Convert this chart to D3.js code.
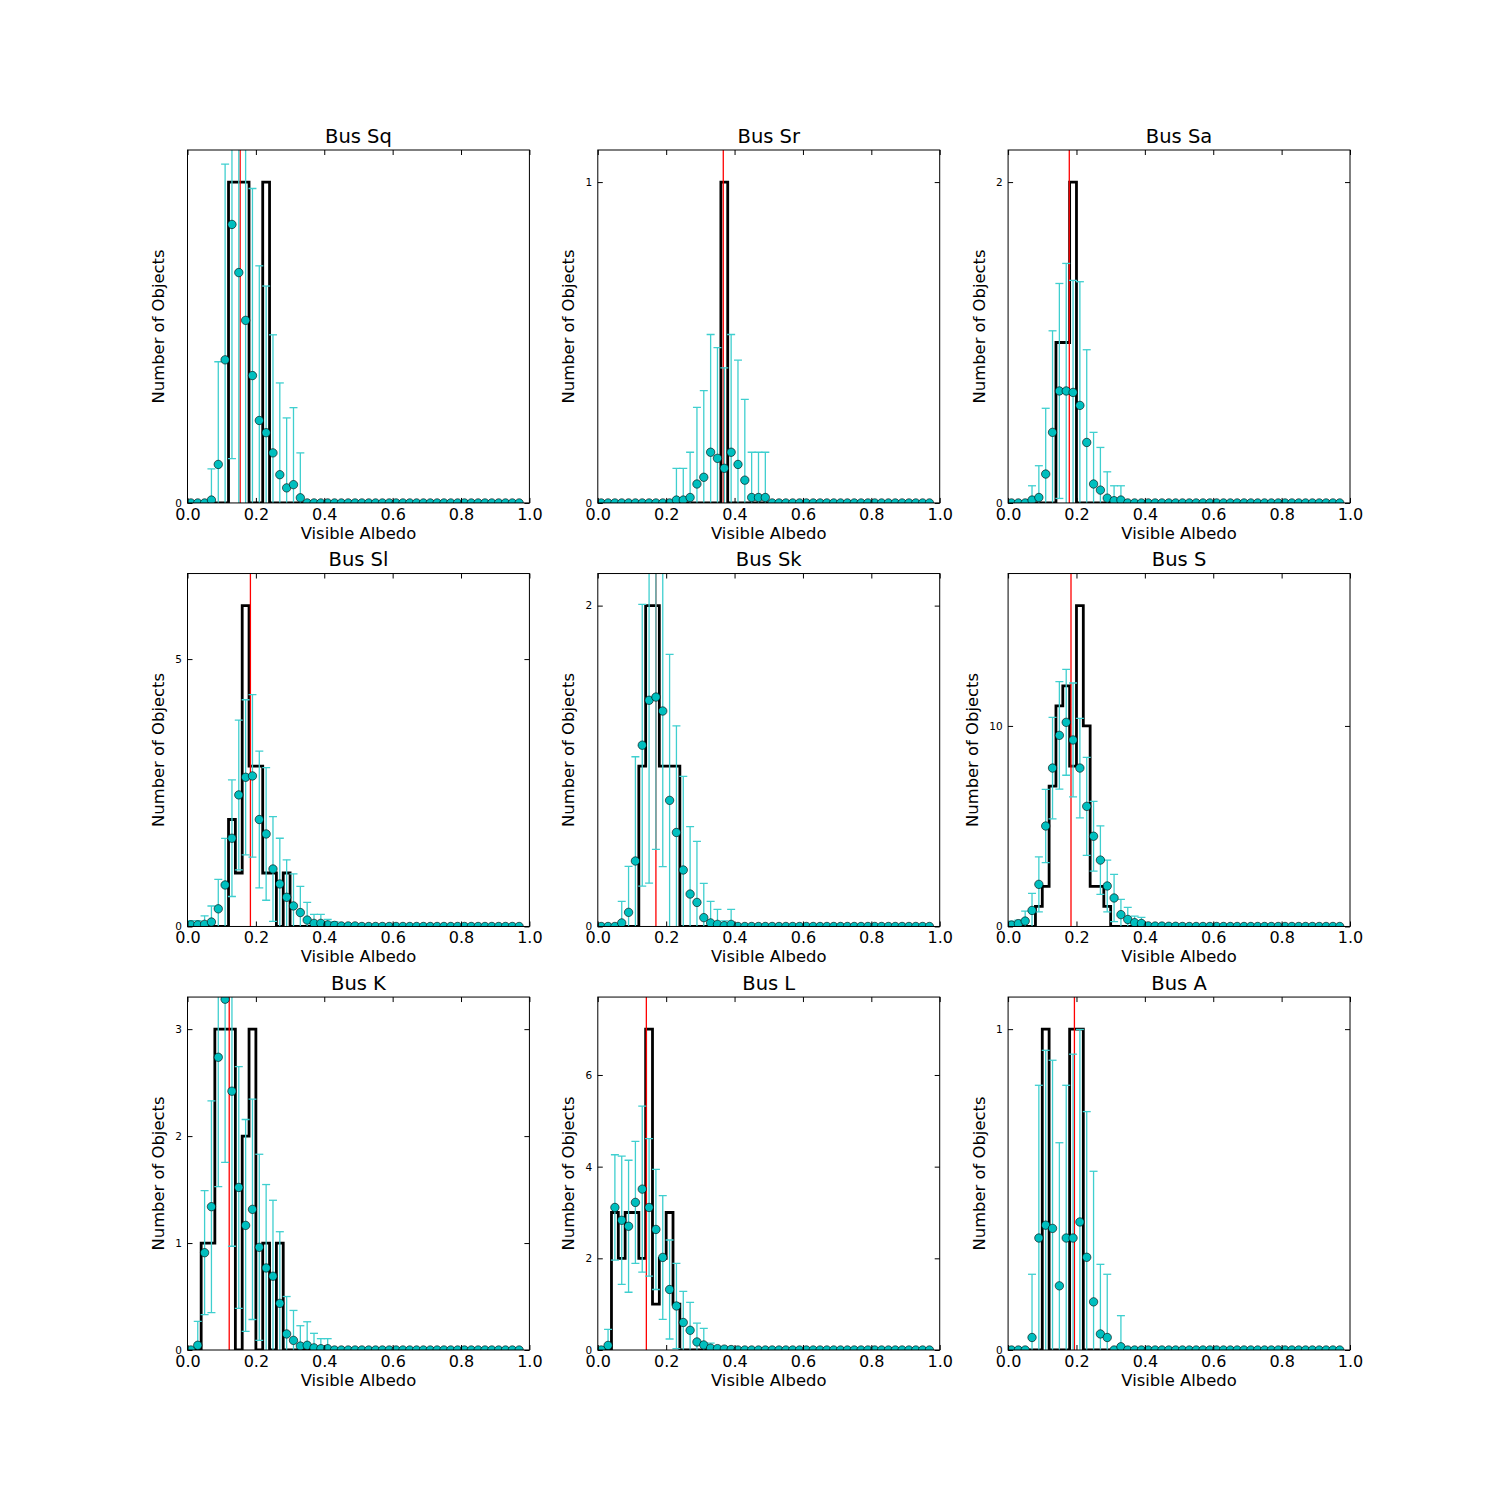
<!DOCTYPE html>
<html><head><meta charset="utf-8">
<script src="https://cdn.jsdelivr.net/npm/d3@7"></script>
<style>body{margin:0;background:#fff} text{font-family:"DejaVu Sans",sans-serif;fill:#000}</style>
</head><body><svg id="c" width="1500" height="1500" xmlns="http://www.w3.org/2000/svg"></svg>
<script>
// ---------------- data ----------------
const titles = ["Bus Sq","Bus Sr","Bus Sa","Bus Sl","Bus Sk","Bus S","Bus K","Bus L","Bus A"];
const histMax = [1,1,2,6,2,16,3,7,1];
const yTicks = [[0],[0,1],[0,2],[0,5],[0,2],[0,10],[0,1,2,3],[0,2,4,6],[0,1]];
const xTicks = [0,0.2,0.4,0.6,0.8,1.0];
const meanAlbedo = [0.154,0.367,0.179,0.184,0.17,0.184,0.122,0.142,0.194];

// histogram counts, bins of width 0.02 starting at 0.00 (remaining bins are empty)
const histSq = [0,0,0,0,0,0,1,1,1,0,0,1,0,0,0,0,0,0,0,0];
const histSr = [0,0,0,0,0,0,0,0,0,0,0,0,0,0,0,0,0,0,1,0];
const histSa = [0,0,0,0,0,0,0,1,1,2,0,0,0,0,0,0,0,0,0,0];
const histSl = [0,0,0,0,0,0,2,1,6,3,3,1,1,0,1,0,0,0,0,0];
const histSk = [0,0,0,0,0,0,1,2,2,1,1,1,0,0,0,0,0,0,0,0];
const histS  = [0,0,0,0,1,2,7,11,12,8,16,10,2,2,1,0,0,0,0,0];
const histK  = [0,0,1,1,3,3,3,0,2,3,0,1,0,1,0,0,0,0,0,0];
const histL  = [0,0,3,2,3,3,2,7,1,2,3,1,0,0,0,0,0,0,0,0];
const histA  = [0,0,0,0,0,1,0,0,0,1,1,0,0,0,0,0,0,0,0,0];

// smoothed points at bin centres 0.01, 0.03, ... (remaining points are zero)
const dotSq = [0,0,0,0.009,0.12,0.446,0.868,0.718,0.569,0.397,0.257,0.219,0.156,0.088,0.047,0.057,0.016];
const errSq = [0,0,0,0.097,0.32,0.61,0.73,0.75,0.72,0.583,0.482,0.457,0.368,0.286,0.218,0.24,0.14];
const dotSr = [0,0,0,0,0,0,0,0,0,0,0,0.009,0.009,0.017,0.059,0.08,0.158,0.139,0.108,0.158,0.12,0.071,0.017,0.017,0.017];
const errSr = [0,0,0,0,0,0,0,0,0,0,0,0.099,0.099,0.141,0.239,0.27,0.367,0.345,0.313,0.367,0.325,0.252,0.141,0.141,0.141];
const dotSa = [0,0,0,0.018,0.034,0.18,0.44,0.698,0.698,0.689,0.608,0.377,0.118,0.08,0.03,0.014,0.018];
const errSa = [0,0,0,0.089,0.198,0.41,0.633,0.67,0.795,0.698,0.771,0.578,0.322,0.266,0.164,0.093,0.089];
const dotSl = [0.03,0.03,0.04,0.083,0.33,0.776,1.65,2.46,2.79,2.815,2.0,1.73,1.075,0.795,0.546,0.384,0.26,0.12,0.058,0.058,0.03,0.02,0.01,0.01,0.01];
const errSl = [0.08,0.08,0.16,0.3,0.55,0.87,1.09,1.4,1.45,1.52,1.28,1.24,0.98,0.855,0.7,0.6,0.49,0.33,0.17,0.17,0.1,0.07,0.04,0.04,0.04];
const dotSk = [0,0,0,0.022,0.088,0.408,1.13,1.41,1.43,1.343,0.786,0.586,0.352,0.202,0.15,0.055,0.022,0.013,0.005,0.013];
const errSk = [0,0,0,0.135,0.287,0.65,0.878,1.14,0.95,0.97,0.91,0.665,0.583,0.42,0.38,0.214,0.135,0.094,0.03,0.094];
const dotS  = [0.07,0.14,0.27,0.8,2.1,5.01,7.9,9.53,10.18,9.3,7.9,5.99,4.5,3.31,2.02,1.42,0.59,0.35,0.19,0.15,0.03,0.02,0.02,0.01,0.01];
const errS  = [0.2,0.18,0.5,0.85,1.37,1.83,2.53,2.68,2.64,2.84,2.48,2.44,1.74,1.71,1.29,1.18,0.76,0.6,0.33,0.3,0.1,0.05,0.05,0.03,0.03];
const dotK  = [0,0.044,0.91,1.34,2.737,3.28,2.42,1.52,1.165,1.315,0.96,0.767,0.69,0.436,0.15,0.09,0.037,0.044,0.02,0.012,0.012];
const errK  = [0,0.224,0.58,0.99,1.21,1.525,1.45,1.13,0.99,1.03,0.87,0.78,0.71,0.67,0.35,0.28,0.19,0.22,0.136,0.094,0.094];
const dotL  = [0,0.1,3.11,2.83,2.7,3.22,3.51,3.11,2.63,2.02,1.32,0.96,0.6,0.43,0.175,0.11,0.04,0.03,0.02,0.01];
const errL  = [0,0.35,1.15,1.4,1.44,1.33,1.81,1.5,1.31,1.35,1.08,0.93,0.68,0.61,0.41,0.36,0.11,0.05,0.03,0.02];
const dotA  = [0,0,0,0.039,0.349,0.389,0.379,0.2,0.349,0.349,0.399,0.289,0.15,0.05,0.039,0,0.01];
const errA  = [0,0,0,0.197,0.476,0.545,0.524,0.446,0.476,0.573,0.6,0.454,0.407,0.217,0.197,0,0.097];

const hists = [histSq,histSr,histSa,histSl,histSk,histS,histK,histL,histA];
const dots  = [dotSq,dotSr,dotSa,dotSl,dotSk,dotS,dotK,dotL,dotA];
const errs  = [errSq,errSr,errSa,errSl,errSk,errS,errK,errL,errA];

const nBins = 49;
const binWidth = 0.02;

// ---------------- layout ----------------
const W = 1500, H = 1500;
const figL = 0.125*W, figR = 0.9*W, figT = 0.1*H, figB = 0.9*H;
const pw = (figR-figL)/3.4, ph = (figB-figT)/3.4;
const gx = 0.2*pw, gy = 0.2*ph;

const svg = d3.select("#c");
const pad = arr => d3.range(nBins).map(i => (i < arr.length ? arr[i] : 0));

titles.forEach((title, p) => {
  const col = p % 3, row = Math.floor(p/3);
  const x0 = figL + col*(pw+gx), y0 = figT + row*(ph+gy);
  const x = d3.scaleLinear().domain([0,1]).range([x0, x0+pw]);
  const y = d3.scaleLinear().domain([0, histMax[p]*1.1]).range([y0+ph, y0]);
  const g = svg.append("g");

  const clipId = "clip"+p;
  svg.append("clipPath").attr("id", clipId).append("rect")
    .attr("x", x0).attr("y", y0).attr("width", pw).attr("height", ph);
  const plot = g.append("g").attr("clip-path", `url(#${clipId})`);

  // histogram step
  const counts = pad(hists[p]);
  const edges = d3.range(nBins+1).map(i => i*binWidth);
  const pts = [[edges[0], 0]];
  counts.forEach((c, i) => { pts.push([edges[i], c]); pts.push([edges[i+1], c]); });
  pts.push([edges[nBins], 0]);
  plot.append("path")
    .attr("d", d3.line().x(d => x(d[0])).y(d => y(d[1]))(pts))
    .attr("fill", "none").attr("stroke", "#000").attr("stroke-width", 2.8)
    .attr("stroke-linejoin", "miter");

  // mean line
  plot.append("line")
    .attr("x1", x(meanAlbedo[p])).attr("x2", x(meanAlbedo[p]))
    .attr("y1", y0).attr("y2", y0+ph)
    .attr("stroke", "#ff0000").attr("stroke-width", 1.3);

  // error bars
  const vals = pad(dots[p]), ers = pad(errs[p]);
  const centers = d3.range(nBins).map(i => binWidth/2 + i*binWidth);
  const ecol = "#3fcfcf";
  const eb = plot.append("g").attr("stroke", ecol).attr("stroke-width", 1.3);
  centers.forEach((cx, i) => {
    const e = ers[i];
    if (e <= 0) return;
    const lo = vals[i]-e, hi = vals[i]+e;
    eb.append("line").attr("x1", x(cx)).attr("x2", x(cx)).attr("y1", y(lo)).attr("y2", y(hi));
    [lo, hi].forEach(v => {
      eb.append("line").attr("x1", x(cx)-4).attr("x2", x(cx)+4).attr("y1", y(v)).attr("y2", y(v));
    });
  });

  // dots
  plot.selectAll("circle.d").data(centers).join("circle")
    .attr("class","d")
    .attr("cx", d => x(d)).attr("cy", (d,i) => y(vals[i])).attr("r", 4.2)
    .attr("fill", "#00bfbf").attr("stroke", "#000").attr("stroke-width", 0.6);

  // frame
  g.append("rect").attr("x", x0).attr("y", y0).attr("width", pw).attr("height", ph)
    .attr("fill", "none").attr("stroke", "#000").attr("stroke-width", 1);

  // axes
  const fmt = d3.format(".1f");
  const ax = g.append("g").attr("transform", `translate(0,${y0+ph})`)
    .call(d3.axisBottom(x).tickValues(xTicks).tickFormat(fmt).tickSizeInner(-5).tickSizeOuter(0).tickPadding(5));
  ax.selectAll("text").style("font-size","16px").attr("dy","0.74em");
  const axT = g.append("g").attr("transform", `translate(0,${y0})`)
    .call(d3.axisTop(x).tickValues(xTicks).tickFormat("").tickSizeInner(-5).tickSizeOuter(0));
  const ay = g.append("g").attr("transform", `translate(${x0},0)`)
    .call(d3.axisLeft(y).tickValues(yTicks[p]).tickFormat(d3.format("d")).tickSizeInner(-5).tickSizeOuter(0).tickPadding(5.5));
  ay.selectAll("text").style("font-size","10.5px");
  const ayR = g.append("g").attr("transform", `translate(${x0+pw},0)`)
    .call(d3.axisRight(y).tickValues(yTicks[p]).tickFormat("").tickSizeInner(-5).tickSizeOuter(0));
  [ax, axT, ay, ayR].forEach(a => {
    a.select(".domain").remove();
    a.selectAll(".tick line").attr("stroke","#000").attr("stroke-width",1);
    a.attr("font-family", null);
  });

  // titles & labels
  g.append("text").attr("x", x0+pw/2).attr("y", y0-7.3)
    .attr("text-anchor","middle").style("font-size","19.5px").text(title);
  g.append("text").attr("x", x0+pw/2).attr("y", y0+ph+36)
    .attr("text-anchor","middle").style("font-size","16.4px").text("Visible Albedo");
  const digits = d3.max(yTicks[p], t => String(t).length);
  const lx = x0 - (16.5 + 7*digits), ly = y0 + ph/2;
  g.append("text").attr("transform", `translate(${lx},${ly}) rotate(-90)`)
    .attr("text-anchor","middle").style("font-size","16.4px").text("Number of Objects");
});
</script></body></html>
